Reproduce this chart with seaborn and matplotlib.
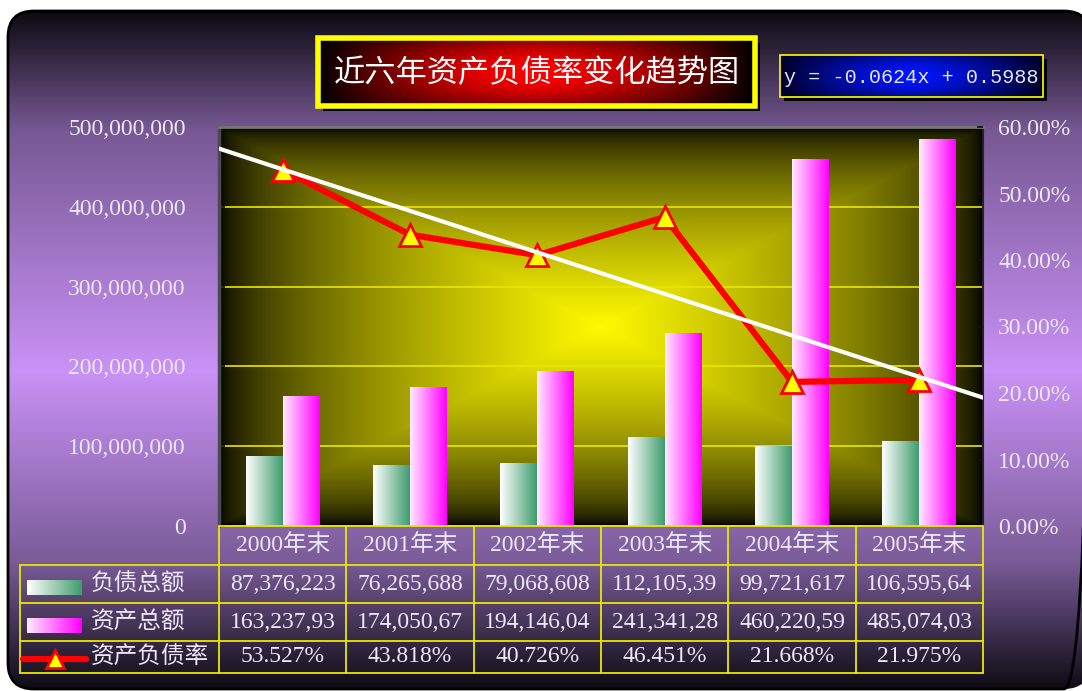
import numpy as np
import pandas as pd
import matplotlib
matplotlib.use('Agg')
import matplotlib.pyplot as plt
import seaborn as sns
from matplotlib.patches import FancyBboxPatch, Rectangle
from matplotlib.ticker import FuncFormatter

# 数据
years = ['2000年末', '2001年末', '2002年末', '2003年末', '2004年末', '2005年末']
debt = [87376223, 76265688, 79068608, 112105390, 99721617, 106595640]      # 负债总额
assets = [163237930, 174050670, 194146040, 241341280, 460220590, 485074030]  # 资产总额
ratio = [0.53527, 0.43818, 0.40726, 0.46451, 0.21668, 0.21975]             # 资产负债率
series_names = ['负债总额', '资产总额', '资产负债率']
title = '近六年资产负债率变化趋势图'

sns.set_theme(style='white')
plt.rcParams['font.family'] = ['Liberation Serif', 'Noto Sans CJK SC', 'DejaVu Sans']
plt.rcParams['axes.unicode_minus'] = False

W, H = 1082, 691
txt_c = '#eee6f6'
line_y = '#e8e800'
cjk = ['Noto Sans CJK SC', 'DejaVu Sans']


def hgrad(c0, c1, n=64):
    a = np.array(matplotlib.colors.to_rgb(c0))
    b = np.array(matplotlib.colors.to_rgb(c1))
    t = np.linspace(0, 1, n)[None, :, None]
    return a + (b - a) * t


fig = plt.figure(figsize=(W / 100, H / 100), dpi=100)
fig.patch.set_facecolor('white')

# 背景：圆角矩形 + 竖直渐变
bg = fig.add_axes([0, 0, 1, 1], zorder=0)
bg.set_xlim(0, W)
bg.set_ylim(H, 0)
bg.axis('off')
stops_y = [11, 130, 370, 560, 689]
stops_c = ['#0b0a10', '#765893', '#c992f6', '#7a5c98', '#0d0b13']
rgb = np.array([matplotlib.colors.to_rgb(c) for c in stops_c])
yy = np.arange(H)
grad = np.stack([np.interp(yy, stops_y, rgb[:, k]) for k in range(3)], axis=-1)[:, None, :]
frame = FancyBboxPatch((8, 11), 1090 - 8, 689 - 11, boxstyle='round,pad=0,rounding_size=26',
                       facecolor='none', edgecolor='#000000', lw=2, zorder=2)
bg.add_patch(frame)
im = bg.imshow(grad, extent=(0, W, H, 0), aspect='auto', zorder=1)
im.set_clip_path(frame)

# 主图
pl, pr, pt, pb = 219, 983, 127, 526
ax = fig.add_axes([pl / W, 1 - pb / H, (pr - pl) / W, (pb - pt) / H], zorder=2)
ax.patch.set_alpha(0)

# 绘图区中心渐变
gx, gy = np.meshgrid(np.linspace(-1, 1, 400), np.linspace(-1, 1, 200))
R = np.maximum(np.abs(gx), np.abs(gy))
inten = np.clip(1 - R, 0, 1) ** 0.6
plot_bg = np.stack([inten, inten * 0.98, np.zeros_like(inten)], axis=-1)
ax.imshow(plot_bg, extent=(-0.5, 5.5, 0, 5e8), aspect='auto', zorder=0)

df = pd.DataFrame({'year': years * 2, 'value': debt + assets,
                   'series': [series_names[0]] * len(years) + [series_names[1]] * len(years)})
sns.barplot(data=df, x='year', y='value', hue='series', ax=ax, width=0.58, legend=False,
            palette=['#3f9c6e', '#ff00ff'], saturation=1)

grads = [hgrad('#ffffff', '#3f9c6e'), hgrad('#ffe8ff', '#ff00ff')]
bars = list(ax.patches)
for i, p in enumerate(bars):
    g = grads[0] if i < len(years) else grads[1]
    x0, y0 = p.get_x(), p.get_y()
    w, h = p.get_width(), p.get_height()
    bi = ax.imshow(g, extent=(x0, x0 + w, y0, y0 + h), aspect='auto', zorder=2)
    bi.set_clip_path(p)
    p.set_facecolor('none')
    p.set_edgecolor('none')

ax.set_xlim(-0.5, 5.5)
ax.set_ylim(0, 5e8)
ax.set_yticks(np.arange(0, 5e8 + 1, 1e8))
ax.yaxis.grid(True, color=line_y, lw=1.2)
ax.set_axisbelow(True)
ax.yaxis.set_major_formatter(FuncFormatter(lambda v, p: f'{int(v):,}'))
ax.tick_params(axis='y', labelcolor=txt_c, color='#111111', labelsize=17, length=4,
               direction='in', pad=24, left=True)
ax.tick_params(axis='x', bottom=False, labelbottom=False)
ax.set_xlabel('')
ax.set_ylabel('')
ax.spines['left'].set_color('#4a4a55')
ax.spines['left'].set_linewidth(2.5)
ax.spines['top'].set_color('#777777')
ax.spines['top'].set_linewidth(2)
ax.spines['right'].set_color('#222222')
ax.spines['right'].set_linewidth(1.5)
ax.spines['bottom'].set_visible(False)

# 资产负债率 + 趋势线
ax2 = ax.twinx()
ax2.set_zorder(3)
ax2.patch.set_visible(False)
xi = np.arange(len(years))
sns.lineplot(x=xi, y=ratio, ax=ax2, color='red', lw=4.5, marker='^', markersize=16,
             markerfacecolor='yellow', markeredgecolor='red', markeredgewidth=2, zorder=3)
coef = np.polyfit(xi + 1, ratio, 1)
tx = np.array([-0.5, len(years) - 0.5])
ax2.plot(tx, np.polyval(coef, tx + 1), color='white', lw=3, zorder=4)
ax2.set_xlim(-0.5, 5.5)
ax2.set_ylim(0, 0.6)
ax2.set_yticks(np.arange(0, 0.61, 0.1))
ax2.yaxis.set_major_formatter(FuncFormatter(lambda v, p: f'{v * 100:.2f}%'))
ax2.tick_params(axis='y', labelcolor=txt_c, color='#111111', labelsize=17, length=4,
                direction='in', pad=11, right=True)
ax2.set_ylabel('')
for s in ax2.spines.values():
    s.set_visible(False)

# 前景：数据表、标题、公式
fg = fig.add_axes([0, 0, 1, 1], zorder=5)
fg.set_xlim(0, W)
fg.set_ylim(H, 0)
fg.axis('off')
fg.patch.set_alpha(0)

n = len(years)
col_w = (pr - pl) / n
rows = [526, 565, 603, 641, 673]
tab_l = 20
fg.plot([pl, pr], [rows[0], rows[0]], color=line_y, lw=1.3)
for y in rows[1:]:
    fg.plot([tab_l, pr], [y, y], color=line_y, lw=1.3)
for i in range(n + 1):
    x = pl + i * col_w
    fg.plot([x, x], [rows[0], rows[-1]], color=line_y, lw=1.3)
fg.plot([tab_l, tab_l], [rows[1], rows[-1]], color=line_y, lw=1.3)

cells = [years,
         [f'{v:,}'[:10] for v in debt],
         [f'{v:,}'[:10] for v in assets],
         [f'{r * 100:.3f}%' for r in ratio]]
for r, vals in enumerate(cells):
    yc = (rows[r] + rows[r + 1]) / 2
    for i, s in enumerate(vals):
        fg.text(pl + (i + 0.5) * col_w, yc, s, ha='center', va='center', color=txt_c, fontsize=17)

# 图例列
fg.imshow(grads[0], extent=(27, 82, 595, 580), aspect='auto')
fg.imshow(grads[1], extent=(27, 82, 633, 618), aspect='auto')
fg.plot([23, 86], [659, 659], color='red', lw=4.5)
fg.plot([54.5], [659], marker='^', markersize=13, markerfacecolor='yellow',
        markeredgecolor='red', markeredgewidth=2)
for r, name in enumerate(series_names):
    fg.text(91, (rows[r + 1] + rows[r + 2]) / 2, name, ha='left', va='center',
            color=txt_c, fontsize=17, family=cjk)

# 标题框
tx0, ty0, tw, th = 318, 38, 437, 68
fg.add_patch(Rectangle((tx0 + 5, ty0 + 5), tw, th, facecolor='black', edgecolor='none', zorder=1))
gx, gy = np.meshgrid(np.linspace(-1, 1, 300), np.linspace(-1, 1, 60))
ti = np.clip(1 - np.abs(gx) ** 1.6, 0, 1) * (1 - 0.5 * gy ** 2)
fg.imshow(np.stack([ti, np.zeros_like(ti), np.zeros_like(ti)], axis=-1),
          extent=(tx0, tx0 + tw, ty0 + th, ty0), aspect='auto', zorder=2)
fg.add_patch(Rectangle((tx0, ty0), tw, th, facecolor='none', edgecolor='#ffff00', lw=4, zorder=3))
fg.text(tx0 + tw / 2, ty0 + th / 2 + 1, title, ha='center', va='center', color='white',
        fontsize=22.5, family=cjk, zorder=4)

# 趋势线公式框
ex0, ey0, ew, eh = 780, 55, 263, 42
fg.add_patch(Rectangle((ex0 + 4, ey0 + 4), ew, eh, facecolor='black', edgecolor='none', zorder=1))
gx, gy = np.meshgrid(np.linspace(-1, 1, 200), np.linspace(-1, 1, 40))
bi = np.clip(1 - np.abs(gx) ** 1.4, 0, 1) * (1 - 0.5 * gy ** 2)
fg.imshow(np.stack([np.zeros_like(bi), bi * 0.08, 0.15 + 0.85 * bi], axis=-1),
          extent=(ex0, ex0 + ew, ey0 + eh, ey0), aspect='auto', zorder=2)
fg.add_patch(Rectangle((ex0, ey0), ew, eh, facecolor='none', edgecolor='#ffff00', lw=1.2, zorder=3))
fg.text(ex0 + ew / 2, ey0 + eh / 2 + 1, f'y = {coef[0]:.4f}x + {coef[1]:.4f}',
        ha='center', va='center', color='#e6e6ee', fontsize=14.5, family='Liberation Mono',
        zorder=4)

fig.savefig('out.png', dpi=100)
